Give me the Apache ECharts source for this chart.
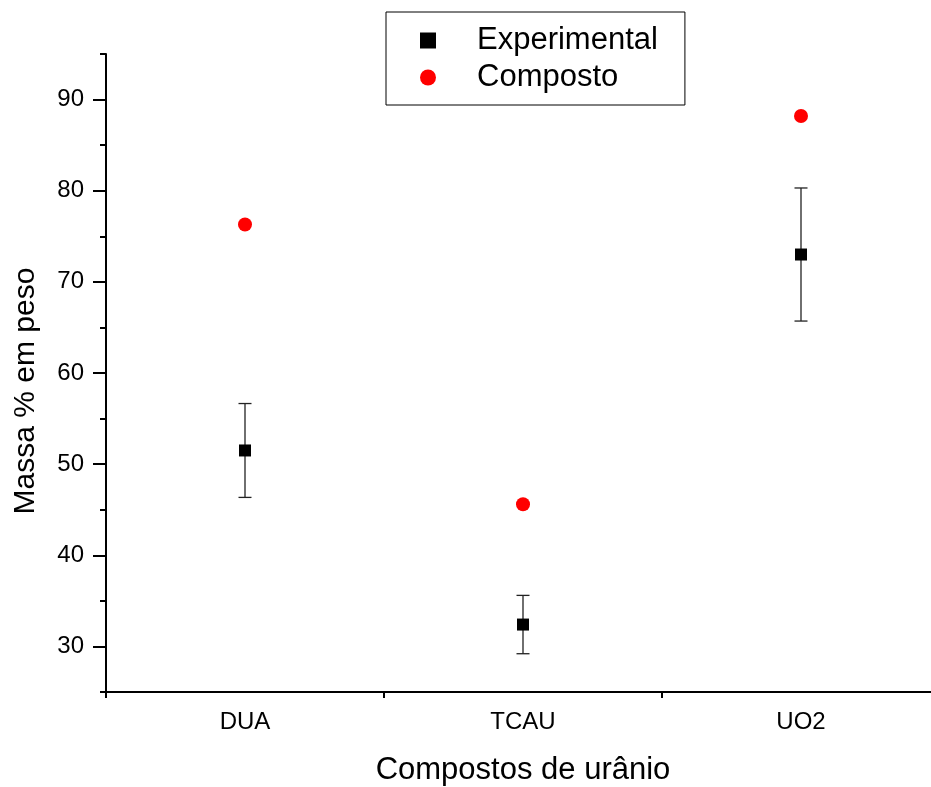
<!DOCTYPE html>
<html>
<head>
<meta charset="utf-8">
<script src="https://cdn.jsdelivr.net/npm/echarts@6/dist/echarts.min.js"></script>
<style>
html,body{margin:0;padding:0;background:#fff;}
#chart{width:931px;height:787px;}
</style>
</head>
<body>
<div id="chart"></div>
<script>
const categories = ['DUA', 'TCAU', 'UO2'];
const experimental = [51.5, 32.4, 73.0];
const experimentalError = [5.15, 3.2, 7.3];
const composto = [76.3, 45.6, 88.2];
const yMajorTicks = [30, 40, 50, 60, 70, 80, 90];
const yMinorTicks = [25, 35, 45, 55, 65, 75, 85, 95];
const yMin = 25, yMax = 95;

const FONT = "'Liberation Sans', Arial, sans-serif";

const errorData = categories.map((c, i) => [i, experimental[i] - experimentalError[i], experimental[i] + experimentalError[i]]);

const chart = echarts.init(document.getElementById('chart'), null, {renderer: 'canvas'});
chart.setOption({
  animation: false,
  backgroundColor: '#fff',
  textStyle: {fontFamily: FONT},
  grid: {left: 106, top: 54, bottom: 95, right: -9, containLabel: false, outerBoundsMode: 'none'},
  legend: {
    left: 386, top: 12,
    orient: 'vertical',
    padding: [13, 27, 12, 34],
    borderColor: '#000', borderWidth: 1,
    itemWidth: 16, itemHeight: 16,
    itemGap: 6,
    textStyle: {fontFamily: FONT, fontSize: 31, color: '#000', lineHeight: 30, padding: [0, 0, 0, 36]},
    data: ['Experimental', 'Composto']
  },
  xAxis: [
    {
      type: 'category', data: categories, position: 'bottom', boundaryGap: true,
      axisLine: {lineStyle: {color: '#000', width: 2}},
      axisTick: {alignWithLabel: true, length: 13, lineStyle: {color: '#000', width: 2}},
      axisLabel: {fontFamily: FONT, fontSize: 24, color: '#000', margin: 18},
      splitLine: {show: false},
      name: 'Compostos de urânio', nameLocation: 'middle', nameGap: 63,
      nameTextStyle: {fontFamily: FONT, fontSize: 31, color: '#000'}
    },
    {
      type: 'category', data: categories, position: 'bottom', boundaryGap: true,
      axisLine: {show: false},
      axisTick: {show: true, length: 6, lineStyle: {color: '#000', width: 2}},
      axisLabel: {show: false},
      splitLine: {show: false}
    }
  ],
  yAxis: [
    {
      type: 'value', min: yMin, max: yMax, position: 'left',
      axisLine: {show: true, lineStyle: {color: '#000', width: 2}},
      axisTick: {show: true, length: 13, customValues: yMajorTicks, lineStyle: {color: '#000', width: 2}},
      axisLabel: {fontFamily: FONT, fontSize: 24, color: '#000', margin: 22, customValues: yMajorTicks},
      splitLine: {show: false}
    },
    {
      type: 'value', min: yMin, max: yMax, position: 'left',
      axisLine: {show: false},
      axisTick: {show: true, length: 6, customValues: yMinorTicks, lineStyle: {color: '#000', width: 2}},
      axisLabel: {show: false},
      splitLine: {show: false}
    }
  ],
  graphic: [
    {
      type: 'text', x: 26, y: 391, rotation: Math.PI / 2,
      style: {text: 'Massa % em peso', fontFamily: FONT, fontSize: 30, fill: '#000', align: 'center', verticalAlign: 'middle'}
    }
  ],
  series: [
    {
      type: 'custom', name: 'errorbar', xAxisIndex: 0, yAxisIndex: 0, z: 1,
      data: errorData,
      renderItem: function (params, api) {
        const i = api.value(0);
        const lo = api.coord([i, api.value(1)]);
        const hi = api.coord([i, api.value(2)]);
        const cap = 6.5;
        const st = {stroke: '#222', lineWidth: 1.3};
        return {
          type: 'group',
          children: [
            {type: 'line', shape: {x1: hi[0], y1: hi[1], x2: lo[0], y2: lo[1]}, style: st},
            {type: 'line', shape: {x1: hi[0] - cap, y1: hi[1], x2: hi[0] + cap, y2: hi[1]}, style: st},
            {type: 'line', shape: {x1: lo[0] - cap, y1: lo[1], x2: lo[0] + cap, y2: lo[1]}, style: st}
          ]
        };
      }
    },
    {
      type: 'scatter', name: 'Experimental', xAxisIndex: 0, yAxisIndex: 0, z: 3,
      symbol: 'rect', symbolSize: 12,
      itemStyle: {color: '#000', opacity: 1},
      data: experimental
    },
    {
      type: 'scatter', name: 'Composto', xAxisIndex: 0, yAxisIndex: 0, z: 3,
      symbol: 'circle', symbolSize: 14,
      itemStyle: {color: '#ff0000', opacity: 1},
      data: composto
    }
  ]
});
</script>
</body>
</html>
